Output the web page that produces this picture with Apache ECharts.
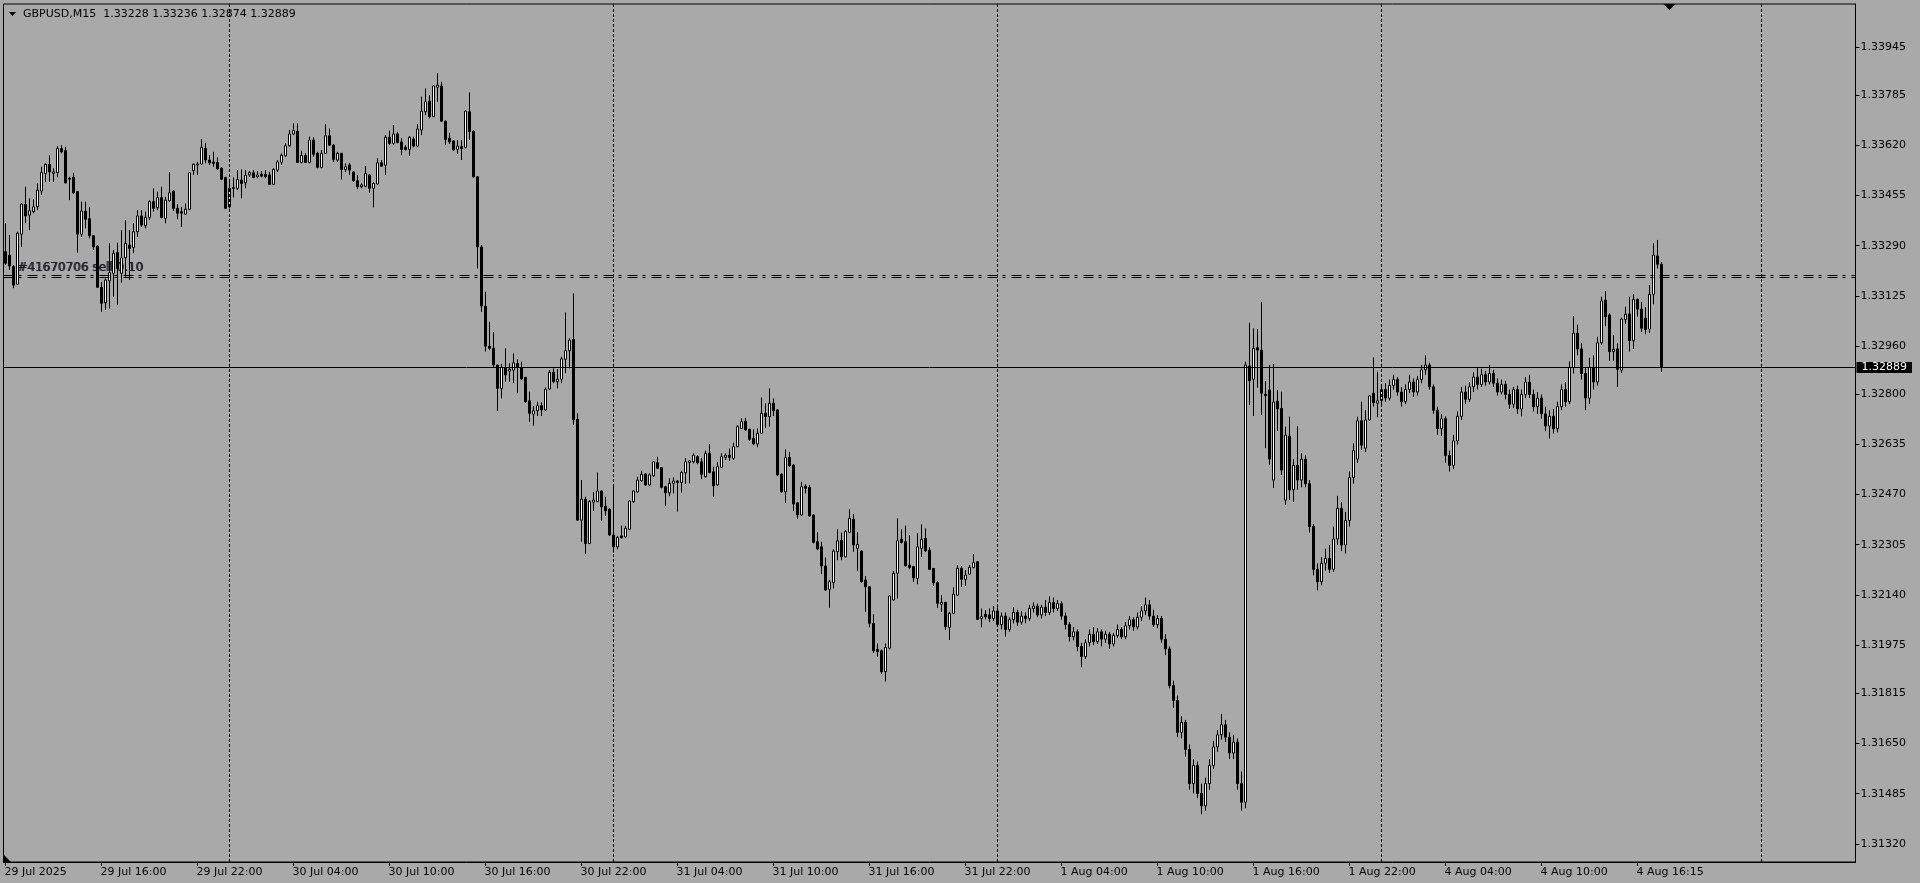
<!DOCTYPE html>
<html><head><meta charset="utf-8">
<script src="https://cdn.jsdelivr.net/npm/echarts@6/dist/echarts.min.js"></script>
<style>html,body{margin:0;padding:0;background:#a9a9a9;overflow:hidden}#c{width:1920px;height:883px}</style>
</head><body><div id="c"></div>
<script>
const chartTitle = 'GBPUSD,M15';
const lastOHLC = ['1.33228', '1.33236', '1.32874', '1.32889'];
const bidPrice = 1.32889;
const orderPrices = [1.33193, 1.33187];
const orderLabel = '#41670706 sell 0.10';
const yTickValues = [1.33945, 1.33785, 1.33620, 1.33455, 1.33290, 1.33125, 1.32960, 1.32800, 1.32635, 1.32470, 1.32305, 1.32140, 1.31975, 1.31815, 1.31650, 1.31485, 1.31320];
const xTickLabels = [
  ['29 Jul 10:00', '29 Jul 2025'], ['29 Jul 16:00', '29 Jul 16:00'], ['29 Jul 22:00', '29 Jul 22:00'],
  ['30 Jul 04:00', '30 Jul 04:00'], ['30 Jul 10:00', '30 Jul 10:00'], ['30 Jul 16:00', '30 Jul 16:00'],
  ['30 Jul 22:00', '30 Jul 22:00'], ['31 Jul 04:00', '31 Jul 04:00'], ['31 Jul 10:00', '31 Jul 10:00'],
  ['31 Jul 16:00', '31 Jul 16:00'], ['31 Jul 22:00', '31 Jul 22:00'], ['1 Aug 04:00', '1 Aug 04:00'],
  ['1 Aug 10:00', '1 Aug 10:00'], ['1 Aug 16:00', '1 Aug 16:00'], ['1 Aug 22:00', '1 Aug 22:00'],
  ['4 Aug 04:00', '4 Aug 04:00'], ['4 Aug 10:00', '4 Aug 10:00'], ['4 Aug 16:15', '4 Aug 16:15']
];
const daySeparators = ['30 Jul 00:00', '31 Jul 00:00', '1 Aug 00:00', '4 Aug 00:00', '5 Aug 00:00'];
// sessions: [day, first quarter-hour slot, number of slots]
const sessions = [['29 Jul', 40, 56], ['30 Jul', 0, 96], ['31 Jul', 0, 96], ['1 Aug', 0, 96], ['4 Aug', 0, 48], ['4 Aug', 49, 47], ['5 Aug', 0, 24]];

// bars: [open, close, low, high] in points (1e-5)
const bars29Jul = [
[133270,133232,133226,133364],[133259,133223,133210,133325],[133221,133160,133150,133226],[133163,133331,133160,133336],
[133328,133427,133286,133429],[133426,133388,133364,133484],[133391,133405,133341,133446],[133402,133418,133397,133443],
[133418,133473,133407,133495],[133470,133531,133457,133550],[133528,133558,133500,133561],[133558,133533,133500,133588],
[133528,133533,133500,133545],[133531,133610,133515,133618],[133610,133599,133594,133621],[133603,133497,133495,133616],
[133512,133509,133440,133517],[133515,133464,133462,133530],[133468,133328,133267,133468],[133328,133404,133319,133435],
[133404,133377,133347,133435],[133379,133323,133314,133418],[133323,133286,133276,133325],[133289,133153,133153,133292],
[133153,133100,133072,133171],[133102,133177,133078,133182],[133174,133201,133083,133298],[133199,133265,133122,133276],
[133267,133215,133094,133300],[133199,133250,133168,133341],[133250,133298,133188,133374],[133292,133281,133177,133341],
[133284,133336,133265,133364],[133336,133388,133319,133407],[133388,133358,133352,133407],[133356,133383,133347,133402],
[133383,133435,133374,133440],[133435,133413,133402,133479],[133415,133448,133407,133468],[133448,133383,133380,133484],
[133380,133440,133364,133451],[133438,133464,133435,133533],[133470,133413,133405,133473],[133413,133397,133377,133427],
[133402,133397,133352,133418],[133394,133410,133391,133429],[133410,133530,133407,133533],[133537,133558,133523,133561],
[133556,133559,133523,133566],[133559,133614,133556,133641],[133610,133572,133561,133629],[133572,133563,133556,133588],
[133566,133561,133550,133599],[133564,133543,133539,133581],[133545,133509,133506,133548],[133514,133413,133411,133517]
];
const bars30Jul = [
[133418,133479,133413,133509],[133478,133482,133449,133515],[133479,133508,133473,133539],[133506,133495,133446,133541],
[133497,133522,133479,133539],[133523,133531,133517,133536],[133530,133515,133512,133539],[133517,133523,133512,133536],
[133525,133519,133515,133536],[133525,133517,133512,133539],[133523,133492,133490,133533],[133492,133541,133490,133545],
[133539,133566,133533,133572],[133565,133588,133556,133594],[133586,133619,133583,133627],[133619,133658,133616,133671],
[133658,133669,133654,133693],[133667,133564,133563,133693],[133564,133587,133561,133603],[133587,133564,133563,133594],
[133564,133638,133561,133649],[133638,133591,133583,133647],[133594,133548,133545,133599],[133548,133594,133545,133605],
[133594,133652,133592,133690],[133652,133621,133618,133676],[133621,133574,133566,133624],[133572,133594,133566,133599],
[133594,133541,133508,133596],[133541,133550,133533,133561],[133556,133539,133523,133563],[133533,133504,133500,133536],
[133504,133484,133476,133523],[133484,133490,133479,133495],[133486,133528,133482,133552],[133523,133479,133464,133525],
[133479,133495,133416,133500],[133493,133563,133490,133578],[133563,133552,133550,133572],[133555,133647,133523,133654],
[133647,133627,133621,133669],[133627,133658,133621,133687],[133658,133630,133627,133665],[133632,133607,133588,133644],
[133614,133607,133603,133621],[133607,133647,133585,133651],[133641,133618,133614,133649],[133618,133674,133614,133691],
[133671,133733,133654,133781],[133731,133764,133720,133808],[133766,133715,133709,133786],[133715,133816,133713,133819],
[133812,133819,133764,133858],[133816,133700,133698,133830],[133700,133640,133621,133702],[133644,133632,133625,133662],
[133635,133605,133603,133638],[133607,133618,133592,133638],[133616,133610,133572,133638],[133614,133733,133610,133737],
[133731,133665,133638,133795],[133667,133517,133514,133671],[133517,133286,133215,133519],[133286,133091,133072,133292],
[133091,132959,132941,133138],[132959,132952,132946,133039],[132952,132897,132891,133006],[132897,132820,132746,132897],
[132820,132889,132787,132900],[132889,132864,132842,132952],[132877,132883,132842,132902],[132880,132904,132837,132935],
[132902,132889,132804,132916],[132889,132851,132847,132908],[132856,132776,132773,132858],[132779,132738,132710,132809],
[132735,132746,132697,132762],[132746,132763,132729,132776],[132763,132749,132729,132774],[132749,132817,132746,132823],
[132818,132873,132814,132880],[132873,132842,132837,132886],[132842,132850,132820,132883],[132850,132917,132837,132924],
[132916,132944,132870,133070],[132944,132979,132886,132985],[132981,132716,132699,133133],[132718,132386,132384,132738],
[132386,132455,132315,132518],[132455,132309,132274,132463],[132309,132447,132307,132452],[132445,132452,132416,132479],
[132447,132482,132445,132543],[132482,132430,132384,132483],[132432,132417,132400,132463],[132422,132337,132334,132424]
];
const bars31Jul = [
[132337,132298,132279,132505],[132298,132329,132290,132334],[132334,132328,132326,132368],[132331,132359,132329,132367],
[132356,132449,132353,132452],[132447,132482,132443,132483],[132479,132518,132477,132529],[132516,132537,132512,132549],
[132538,132502,132499,132540],[132502,132535,132498,132540],[132532,132578,132529,132581],[132575,132557,132554,132595],
[132559,132494,132491,132561],[132496,132476,132432,132499],[132476,132507,132465,132524],[132507,132515,132474,132527],
[132515,132510,132414,132518],[132510,132543,132477,132549],[132542,132578,132505,132590],[132576,132581,132507,132584],
[132578,132600,132573,132606],[132595,132575,132570,132600],[132578,132537,132521,132590],[132529,132606,132526,132615],
[132606,132543,132540,132637],[132545,132499,132463,132562],[132502,132562,132499,132578],[132560,132595,132557,132606],
[132593,132600,132584,132606],[132600,132593,132581,132622],[132590,132628,132584,132641],[132628,132694,132626,132699],
[132688,132710,132686,132721],[132712,132683,132680,132723],[132685,132652,132647,132687],[132655,132637,132633,132685],
[132637,132672,132626,132688],[132672,132738,132670,132790],[132738,132727,132690,132771],[132727,132771,132694,132820],
[132771,132746,132729,132787],[132749,132535,132531,132751],[132537,132479,132477,132540],[132479,132592,132443,132619],
[132592,132565,132562,132611],[132567,132439,132416,132570],[132443,132403,132390,132445],[132403,132496,132400,132512],
[132498,132491,132474,132504],[132494,132400,132397,132502],[132403,132313,132309,132405],[132315,132291,132287,132346],
[132298,132235,132208,132315],[132235,132156,132153,132263],[132158,132183,132097,132189],[132181,132284,132161,132290],
[132282,132318,132254,132356],[132320,132265,132254,132345],[132265,132348,132263,132353],[132346,132392,132343,132422],
[132389,132304,132282,132406],[132293,132306,132219,132346],[132284,132183,132181,132287],[132189,132167,132084,132202],
[132167,132046,132033,132169],[132046,131956,131949,132076],[131960,131953,131936,131980],[131956,131887,131879,131960],
[131887,131967,131854,131980],[131964,132136,131960,132139],[132123,132211,132120,132218],[132211,132318,132128,132392],
[132323,132313,132309,132356],[132315,132236,132233,132368],[132238,132230,132224,132337],[132233,132196,132183,132235],
[132194,132298,132175,132343],[132293,132323,132265,132372],[132326,132285,132282,132359],[132287,132224,132222,132298],
[132227,132180,132169,132228],[132180,132112,132097,132186],[132109,132115,132084,132139],[132115,132035,132024,132117],
[132033,132079,131991,132084],[132079,132142,132076,132165],[132139,132227,132137,132238],[132227,132191,132167,132235],
[132191,132205,132169,132222],[132208,132230,132205,132238],[132230,132246,132227,132274],[132249,132059,132057,132251],
[132062,132068,132033,132095],[132076,132068,132059,132090],[132074,132062,132050,132095],[132062,132087,132054,132103]
];
const bars1Aug = [
[132087,132042,132034,132099],[132042,132070,132026,132082],[132070,132026,132002,132082],[132026,132058,132018,132066],
[132058,132082,132046,132099],[132082,132050,132038,132091],[132050,132070,132042,132087],[132070,132062,132046,132082],
[132062,132095,132054,132107],[132095,132103,132082,132115],[132103,132074,132066,132111],[132074,132099,132062,132107],
[132099,132082,132070,132123],[132082,132115,132074,132135],[132115,132095,132082,132131],[132095,132111,132087,132123],
[132111,132070,132058,132119],[132070,132042,132026,132082],[132042,132002,131986,132050],[132002,132018,131990,132034],
[132018,131970,131954,132026],[131970,131937,131901,131982],[131937,131982,131929,131994],[131982,132010,131970,132026],
[132010,131986,131974,132034],[131986,132018,131978,132030],[132018,131994,131970,132026],[131994,132010,131982,132022],
[132010,131978,131962,132018],[131978,132006,131970,132014],[132006,132026,131998,132042],[132026,132002,131994,132034],
[132002,132038,131994,132050],[132038,132058,132026,132070],[132058,132034,132022,132066],[132034,132066,132026,132082],
[132066,132087,132054,132103],[132087,132107,132074,132131],[132107,132070,132058,132123],[132070,132042,132034,132091],
[132042,132062,132030,132074],[132062,131994,131982,132070],[131994,131962,131941,132010],[131962,131841,131832,131970],
[131841,131792,131768,131857],[131792,131687,131671,131808],[131687,131720,131667,131740],[131720,131631,131607,131728],
[131631,131518,131498,131647],[131518,131578,131486,131599],[131578,131486,131470,131591],[131486,131445,131417,131518],
[131445,131518,131429,131538],[131518,131578,131498,131599],[131578,131639,131566,131659],[131639,131679,131623,131695],
[131679,131712,131663,131748],[131712,131671,131655,131728],[131671,131619,131599,131687],[131619,131655,131599,131679],
[131655,131518,131498,131667],[131518,131457,131429,131558],[131457,132897,131437,132908],[132894,132845,132765,133036],
[132850,132952,132729,133018],[132954,132946,132822,133015],[132946,132804,132732,133105],[132801,132796,132623,132844],
[132815,132587,132567,132897],[132518,132775,132492,132900],[132778,132752,132680,132815],[132754,132551,132535,132809],
[132452,132666,132436,132694],[132663,132485,132452,132727],[132486,132566,132446,132587],[132566,132518,132486,132695],
[132518,132587,132494,132607],[132587,132506,132494,132599],[132506,132365,132345,132518],[132365,132224,132204,132373],
[132224,132183,132155,132244],[132183,132244,132171,132264],[132244,132260,132220,132292],[132260,132224,132212,132304],
[132224,132324,132216,132365],[132324,132425,132304,132466],[132425,132304,132284,132446],[132304,132385,132276,132413],
[132385,132526,132365,132546],[132526,132615,132506,132639],[132587,132713,132575,132727],[132713,132633,132617,132776],
[132623,132716,132610,132749],[132716,132795,132713,132798],[132804,132773,132760,132922],[132771,132779,132725,132875]
];
const bars4Aug = [
[132780,132816,132768,132829],[132816,132788,132776,132837],[132788,132829,132780,132849],[132829,132849,132816,132865],
[132849,132808,132796,132857],[132808,132776,132760,132824],[132776,132816,132768,132833],[132816,132841,132804,132865],
[132841,132808,132792,132853],[132808,132849,132796,132861],[132849,132881,132837,132897],[132881,132897,132865,132929],
[132897,132825,132816,132905],[132825,132748,132736,132833],[132748,132687,132667,132760],[132687,132720,132663,132736],
[132720,132599,132575,132728],[132599,132566,132546,132615],[132566,132647,132554,132667],[132647,132728,132635,132744],
[132728,132808,132716,132825],[132808,132784,132768,132829],[132784,132825,132776,132841],[132825,132857,132808,132873],
[132857,132833,132816,132889],[132833,132865,132825,132885],[132865,132841,132829,132877],[132841,132869,132833,132897],
[132869,132837,132825,132881],[132837,132808,132796,132853],[132808,132833,132800,132849],[132833,132800,132784,132845],
[132800,132768,132752,132816],[132768,132816,132756,132825],[132816,132752,132736,132829],[132752,132800,132728,132816],
[132800,132841,132788,132857],[132841,132800,132788,132865],[132800,132760,132744,132816],[132760,132788,132736,132808],
[132788,132736,132720,132800],[132736,132696,132679,132760],[132696,132728,132655,132748],[132728,132687,132671,132752],
[132687,132760,132675,132776],[132760,132816,132748,132833],[132816,132776,132760,132841],[132776,132889,132768,132909],
[132889,133002,132869,133058],[133002,132950,132929,133030],[132950,132869,132849,132970],[132869,132788,132748,132889],
[132788,132889,132768,132921],[132889,132841,132816,132929],[132841,132970,132829,132990],[132970,133108,132963,133122],
[133111,133056,133025,133141],[133062,132941,132911,133067],[132941,132949,132911,132996],[132950,132883,132825,132968],
[132880,133048,132870,133053],[133047,133064,133032,133089],[133065,132977,132941,133122],[132977,133113,132950,133131],
[133113,133081,133056,133116],[133081,133018,133006,133105],[133051,133014,132998,133087],[133015,133130,133003,133160],
[133130,133259,133097,133298],[133256,133229,133215,133309],[133228,132889,132874,133236]
];

const pad = n => (n < 10 ? '0' : '') + n;
const categories = [];
sessions.forEach(([day, start, count]) => {
  for (let k = 0; k < count; k++) {
    const q = start + k;
    categories.push(day + ' ' + pad(Math.floor(q / 4)) + ':' + pad((q % 4) * 15));
  }
});
const allBars = [].concat(bars29Jul, bars30Jul, bars31Jul, bars1Aug, bars4Aug)
  .map(b => b.map(v => v / 1e5));
const labelMap = new Map(xTickLabels);
const FONT = 'DejaVu Sans';

const chart = echarts.init(document.getElementById('c'), null, {renderer: 'canvas'});
chart.setOption({
  animation: false,
  backgroundColor: '#a9a9a9',
  grid: {left: 3.5, right: 64.5, top: 4, bottom: 21, show: true, borderColor: '#000', borderWidth: 1, backgroundColor: 'transparent'},
  xAxis: {
    type: 'category', data: categories, boundaryGap: true,
    axisLine: {show: true, lineStyle: {color: '#000', width: 1}},
    axisTick: {show: true, length: 4, alignWithLabel: true, interval: (i, v) => labelMap.has(v), lineStyle: {color: '#000'}},
    axisLabel: {show: true, interval: (i, v) => labelMap.has(v), formatter: v => labelMap.get(v) || '',
      color: '#000', fontFamily: FONT, fontSize: 11, margin: 5, align: 'left', padding: [0, 0, 0, -1]},
    splitLine: {show: false}
  },
  yAxis: {
    type: 'value', position: 'right', min: 1.31260, max: 1.34086,
    axisLine: {show: true, lineStyle: {color: '#000', width: 1}},
    axisTick: {show: true, length: 4, inside: false, customValues: yTickValues, lineStyle: {color: '#000'}},
    axisLabel: {show: true, customValues: yTickValues, formatter: v => v.toFixed(5), color: '#000', fontFamily: FONT, fontSize: 11, margin: 5},
    splitLine: {show: false}
  },
  series: [{
    type: 'candlestick', data: allBars, barWidth: 2,
    itemStyle: {color: '#ffffff', color0: '#000000', borderColor: '#000000', borderColor0: '#000000', borderWidth: 1},
    markLine: {
      silent: true, symbol: ['none', 'none'], animation: false, precision: 6,
      data: [
        ...daySeparators.map(d => ({xAxis: d, lineStyle: {color: '#000', width: 1, type: [3, 2]}, label: {show: false}})),
        ...orderPrices.map(p => ({yAxis: p, lineStyle: {color: '#000', width: 1, type: [10, 5, 3, 6]}, label: {show: false}})),
        {yAxis: bidPrice, lineStyle: {color: '#000', width: 1, type: 'solid'},
          label: {show: true, position: 'end', distance: 1, formatter: lastOHLC[3], backgroundColor: '#000', color: '#fff',
            fontFamily: FONT, fontSize: 11, lineHeight: 11, padding: [0, 5, 0, 5]}}
      ]
    }
  }]
});

const orderY = chart.convertToPixel({yAxisIndex: 0}, orderPrices[0]);
const shiftX = chart.convertToPixel({xAxisIndex: 0}, categories[416]);
chart.setOption({
  graphic: [
    {type: 'polygon', shape: {points: [[9, 12], [16, 12], [12.5, 16]]}, style: {fill: '#000'}},
    {type: 'text', x: 23, y: 14, style: {text: chartTitle + '  ' + lastOHLC.join(' '), font: '11px "DejaVu Sans"', fill: '#000', verticalAlign: 'middle'}},
    {type: 'text', x: 18, y: orderY - 7, style: {text: orderLabel, font: '12px "DejaVu Sans"', fill: '#2a2a3c', verticalAlign: 'middle'}},
    {type: 'text', x: 17, y: orderY - 7, style: {text: orderLabel, font: '12px "DejaVu Sans"', fill: '#141414', verticalAlign: 'middle', opacity: 0.85}},
    {type: 'polygon', shape: {points: [[shiftX - 6, 4], [shiftX + 6, 4], [shiftX, 10]]}, style: {fill: '#000'}},
    {type: 'polygon', shape: {points: [[4, 855], [4, 862], [11, 862]]}, style: {fill: '#000'}}
  ]
});
</script></body></html>
